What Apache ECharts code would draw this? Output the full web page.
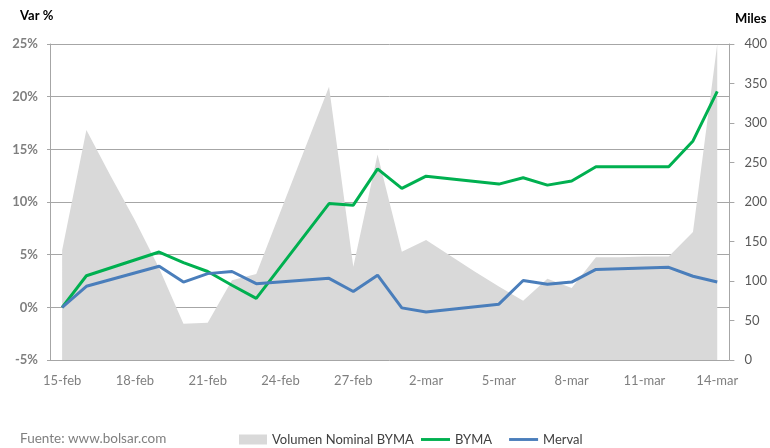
<!DOCTYPE html>
<html>
<head>
<meta charset="utf-8">
<script src="https://cdn.jsdelivr.net/npm/echarts@6/dist/echarts.min.js"></script>
<style>
html,body{margin:0;padding:0;background:#fff;}
#c{width:770px;height:448px;}
</style>
</head>
<body>
<div id="c"></div>
<script>
var dates = ['15-feb','16-feb','17-feb','18-feb','19-feb','20-feb','21-feb','22-feb','23-feb','24-feb','25-feb','26-feb','27-feb','28-feb',
             '1-mar','2-mar','3-mar','4-mar','5-mar','6-mar','7-mar','8-mar','9-mar','10-mar','11-mar','12-mar','13-mar','14-mar'];
var volumen = [139, 291, 233, 177, 116, 46, 47, 101, 109, 188, 267, 346, 118, 260,
               137, 152, 132, 112, 93, 75, 103, 91, 130, 130, 131, 131, 162, 400];
var byma = [0, 3.0, null, null, 5.25, 4.25, 3.4, 2.1, 0.85, null, null, 9.85, 9.7, 13.15,
            11.3, 12.45, null, null, 11.7, 12.3, 11.6, 12.0, 13.35, null, null, 13.35, 15.8, 20.5];
var merval = [0, 2.0, null, null, 3.9, 2.4, 3.2, 3.4, 2.25, null, null, 2.75, 1.5, 3.05,
              -0.05, -0.45, null, null, 0.3, 2.55, 2.2, 2.4, 3.6, null, null, 3.8, 2.95, 2.4];

var FONT = 'Lato';
var LINE_ICON = 'path://M0,0 M30,10 M0,3.5 L30,3.5 L30,6.5 L0,6.5 Z';
var legendText = { fontFamily: FONT, fontSize: 13, color: '#404040' };
var chart = echarts.init(document.getElementById('c'));
chart.setOption({
  animation: false,
  backgroundColor: '#ffffff',
  textStyle: { fontFamily: FONT },
  grid: { left: 50, right: 37, top: 44, bottom: 88, containLabel: false },
  legend: [
    {
      left: 239, top: 433, padding: 0,
      itemWidth: 28, itemHeight: 10,
      textStyle: legendText,
      data: [{ name: 'Volumen Nominal BYMA', icon: 'rect' }]
    },
    {
      left: 421, top: 433, padding: 0,
      itemWidth: 29, itemHeight: 10, itemGap: 17,
      textStyle: legendText,
      data: [{ name: 'BYMA', icon: LINE_ICON }, { name: 'Merval', icon: LINE_ICON }]
    }
  ],
  graphic: [
    { type: 'text', left: 20, top: 9, style: { text: 'Var %', font: 'bold 13px ' + FONT, fill: '#000' } },
    { type: 'text', left: 735, top: 12, style: { text: 'Miles', font: 'bold 13px ' + FONT, fill: '#000' } },
    { type: 'text', left: 20, top: 432, style: { text: 'Fuente: www.bolsar.com', font: '13.5px ' + FONT, fill: '#7F7F7F' } }
  ],
  xAxis: {
    type: 'category',
    data: dates,
    boundaryGap: true,
    axisLine: { show: true, lineStyle: { color: '#A6A6A6', width: 1 } },
    axisTick: { show: false },
    axisLabel: { interval: 2, color: '#7F7F7F', fontSize: 13, margin: 14, fontFamily: FONT }
  },
  yAxis: [
    {
      type: 'value', min: -5, max: 25, interval: 5,
      axisLine: { show: true, lineStyle: { color: '#A6A6A6', width: 1 } },
      axisTick: { show: true, length: 3, lineStyle: { color: '#A6A6A6' } },
      axisLabel: { formatter: '{value}%', color: '#7F7F7F', fontSize: 13, fontWeight: 'bold', margin: 12, fontFamily: FONT },
      splitLine: { show: true, lineStyle: { color: '#A6A6A6', width: 1 } }
    },
    {
      type: 'value', min: 0, max: 400, interval: 50,
      axisLine: { show: true, lineStyle: { color: '#A6A6A6', width: 1 } },
      axisTick: { show: true, length: 5, lineStyle: { color: '#A6A6A6' } },
      axisLabel: { color: '#595959', fontSize: 13, margin: 15, fontFamily: FONT },
      splitLine: { show: false }
    }
  ],
  series: [
    {
      name: 'Volumen Nominal BYMA', type: 'line', yAxisIndex: 1, data: volumen,
      symbol: 'none', lineStyle: { width: 0, color: '#D9D9D9' },
      itemStyle: { color: '#D9D9D9' },
      areaStyle: { color: '#D9D9D9', opacity: 1 }, z: 1
    },
    {
      name: 'BYMA', type: 'line', yAxisIndex: 0, data: byma, connectNulls: true,
      symbol: 'none', lineStyle: { width: 3, color: '#00B050' }, itemStyle: { color: '#00B050' }, z: 3
    },
    {
      name: 'Merval', type: 'line', yAxisIndex: 0, data: merval, connectNulls: true,
      symbol: 'none', lineStyle: { width: 3, color: '#4A7EBB' }, itemStyle: { color: '#4A7EBB' }, z: 4
    }
  ]
});
</script>
</body>
</html>
